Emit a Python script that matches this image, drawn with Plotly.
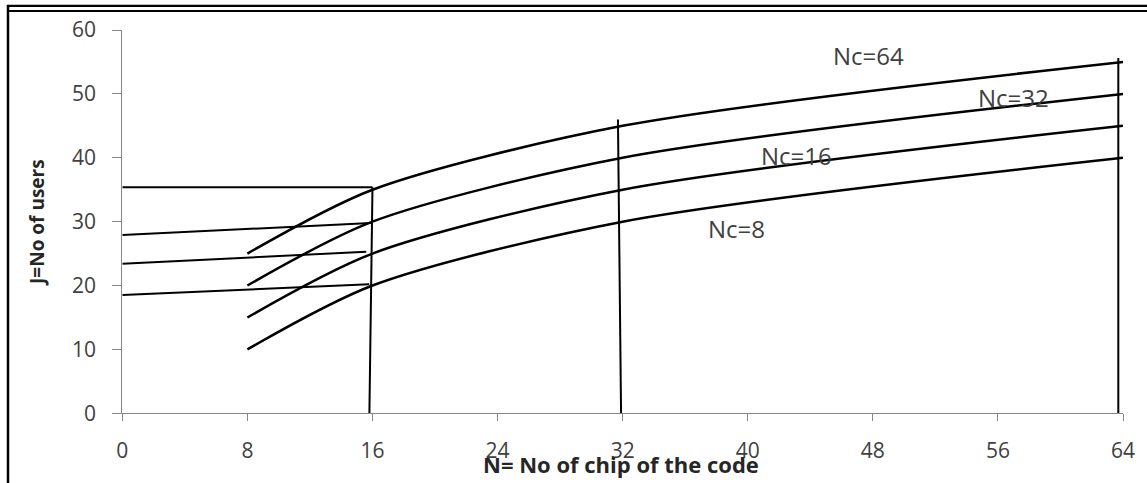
import plotly.graph_objects as go

# ---- data ----
N = [8, 16, 32, 64]
J_nc8 = [10, 20, 30, 40]
J_nc16 = [15, 25, 35, 45]
J_nc32 = [20, 30, 40, 50]
J_nc64 = [25, 35, 45, 55]

x_ticks = [0, 8, 16, 24, 32, 40, 48, 56, 64]
y_ticks = [0, 10, 20, 30, 40, 50, 60]

# hand-drawn reading guides
guide_top_x = [0, 16.0]
guide_top_y = [35.4, 35.4]
guide_v16_x = [16.0, 15.8]
guide_v16_y = [35.4, -0.5]
guide_a_x = [0, 15.9]
guide_a_y = [27.9, 29.8]
guide_b_x = [0, 15.6]
guide_b_y = [23.4, 25.3]
guide_c_x = [0, 15.8]
guide_c_y = [18.5, 20.2]
guide_v32_x = [31.7, 31.9]
guide_v32_y = [46.0, -0.5]
guide_v64_x = [63.7, 63.7]
guide_v64_y = [55.6, -0.5]

curve_labels = ["Nc=64", "Nc=32", "Nc=16", "Nc=8"]
label_x = [47.7, 57.0, 43.1, 39.3]
label_y = [56.0, 49.5, 40.4, 29.0]

W, H = 1147, 483
FONT = "Open Sans"
TXT = "#404040"

fig = go.Figure()

for ys, name in [(J_nc8, "Nc=8"), (J_nc16, "Nc=16"), (J_nc32, "Nc=32"), (J_nc64, "Nc=64")]:
    fig.add_trace(go.Scatter(x=N, y=ys, mode="lines", name=name,
                             line=dict(color="black", width=2.5, shape="spline", smoothing=0.8),
                             showlegend=False, hoverinfo="skip"))

for gx, gy in [(guide_top_x, guide_top_y), (guide_v16_x, guide_v16_y),
               (guide_a_x, guide_a_y), (guide_b_x, guide_b_y), (guide_c_x, guide_c_y),
               (guide_v32_x, guide_v32_y), (guide_v64_x, guide_v64_y)]:
    fig.add_trace(go.Scatter(x=gx, y=gy, mode="lines",
                             line=dict(color="black", width=2),
                             showlegend=False, hoverinfo="skip"))

for t, lx, ly in zip(curve_labels, label_x, label_y):
    fig.add_annotation(x=lx, y=ly, text=t, showarrow=False,
                       xanchor="center", yanchor="middle",
                       font=dict(family=FONT, size=24, color=TXT))

# x axis title (sits partly over the tick labels, as in the original)
fig.add_annotation(xref="paper", yref="paper", x=621 / W, y=1 - 464 / H,
                   xanchor="center", yanchor="middle",
                   text="<b>N= No of chip of the code</b>", showarrow=False,
                   font=dict(family="Liberation Sans Narrow, Open Sans", size=22, color="#262626"))

# frame
fig.add_shape(type="line", xref="paper", yref="paper", x0=7 / W, x1=1, y0=1 - 5.8 / H, y1=1 - 5.8 / H,
              line=dict(color="black", width=2.2))
fig.add_shape(type="line", xref="paper", yref="paper", x0=7 / W, x1=1, y0=1 - 11 / H, y1=1 - 11 / H,
              line=dict(color="black", width=2))
fig.add_shape(type="line", xref="paper", yref="paper", x0=8 / W, x1=8 / W, y0=1 - 5 / H, y1=0,
              line=dict(color="black", width=2.5))

axis_common = dict(showline=True, linecolor="#868686", linewidth=1, ticks="outside",
                   tickcolor="#868686", showgrid=False, zeroline=False, automargin=False,
                   tickfont=dict(family=FONT, size=21, color=TXT))

fig.update_layout(
    template="none",
    width=W, height=H,
    autosize=False,
    margin=dict(l=0, r=0, t=0, b=0, pad=0),
    paper_bgcolor="white", plot_bgcolor="white",
    showlegend=False,
    xaxis=dict(domain=[122.3 / W, 1123 / W], range=[0, 64], tickvals=x_ticks,
               ticklen=7, ticklabelstandoff=11, **axis_common),
    yaxis=dict(domain=[(H - 413.3) / H, (H - 30) / H], range=[0, 60], tickvals=y_ticks,
               ticklen=9, ticklabelstandoff=12,
               title=dict(text="<b>J=No of users</b>", standoff=22,
                          font=dict(family=FONT, size=19, color="#262626")),
               **axis_common),
)

fig.write_html("out.html",
               config={"displayModeBar": False},
               post_script="document.body.style.margin='0px';document.body.style.overflow='hidden';")
